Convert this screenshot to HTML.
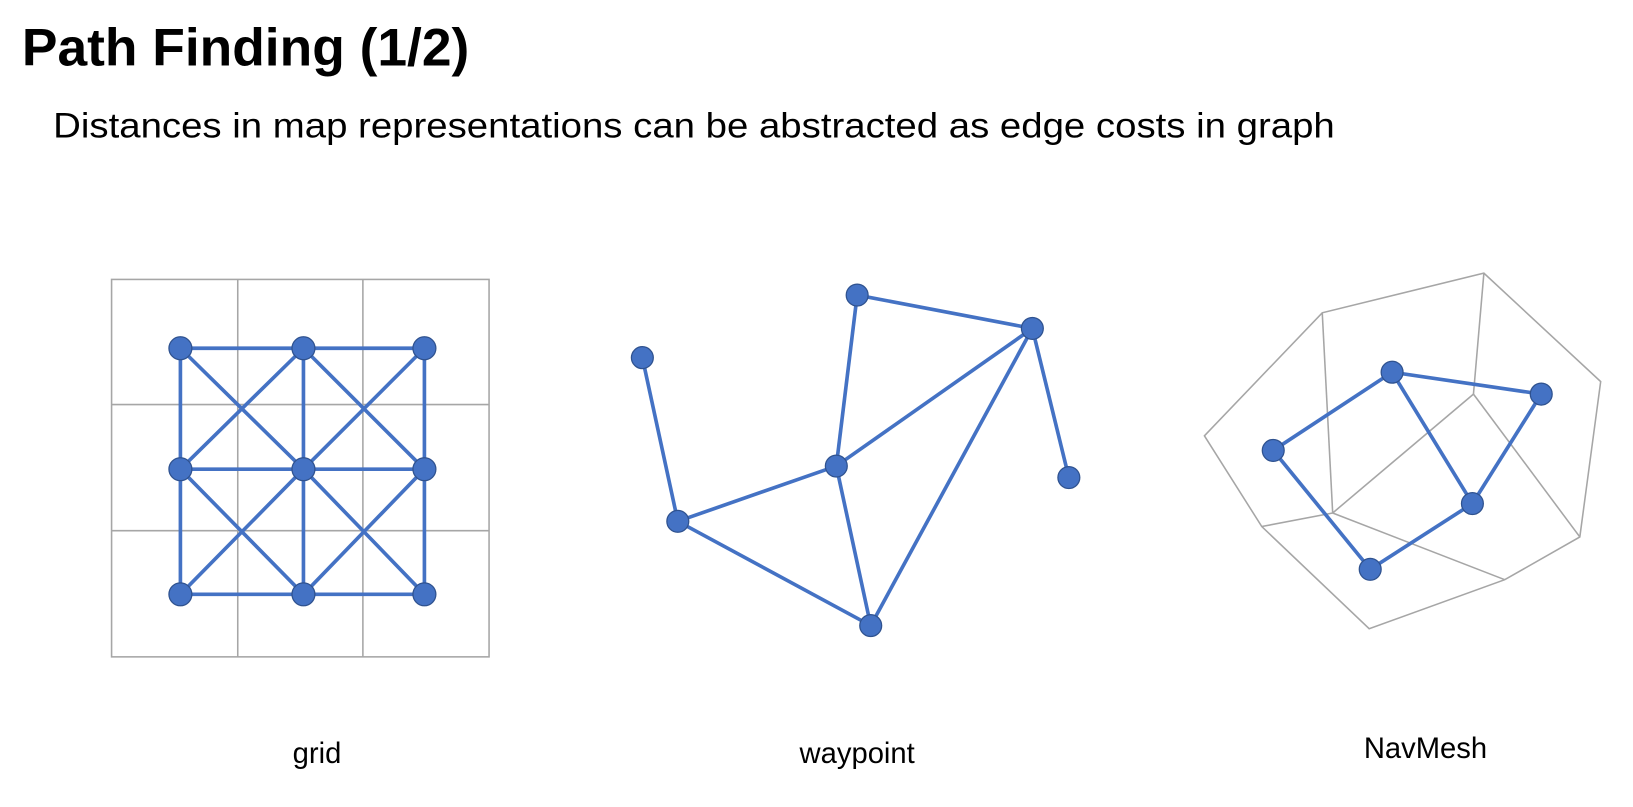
<!DOCTYPE html>
<html><head><meta charset="utf-8"><style>
html,body{margin:0;padding:0;background:#fff;}
svg{display:block;}
text{font-family:"Liberation Sans",Arial,sans-serif;fill:#000;}
</style></head><body>
<svg width="1633" height="807" viewBox="0 0 1566 774" preserveAspectRatio="none" xmlns="http://www.w3.org/2000/svg">
<rect width="1566" height="774" fill="#fff"/>
<text x="21" y="63" font-size="51" font-weight="bold" textLength="429" lengthAdjust="spacingAndGlyphs">Path Finding (1/2)</text>
<text x="51" y="132" font-size="33.5" textLength="1229" lengthAdjust="spacingAndGlyphs">Distances in map representations can be abstracted as edge costs in graph</text>

<!-- grid -->
<g stroke="#a6a6a6" stroke-width="1.5" fill="none">
<rect x="107" y="268" width="362" height="362"/>
<line x1="228" y1="268" x2="228" y2="630"/>
<line x1="348" y1="268" x2="348" y2="630"/>
<line x1="107" y1="388" x2="469" y2="388"/>
<line x1="107" y1="509" x2="469" y2="509"/>
</g>
<g stroke="#4472c4" stroke-width="3.5" fill="none">
<line x1="173" y1="334" x2="407" y2="334"/>
<line x1="173" y1="450" x2="407" y2="450"/>
<line x1="173" y1="570" x2="407" y2="570"/>
<line x1="173" y1="334" x2="173" y2="570"/>
<line x1="291" y1="334" x2="291" y2="570"/>
<line x1="407" y1="334" x2="407" y2="570"/>
<line x1="173" y1="334" x2="291" y2="450"/><line x1="291" y1="334" x2="173" y2="450"/>
<line x1="291" y1="334" x2="407" y2="450"/><line x1="407" y1="334" x2="291" y2="450"/>
<line x1="173" y1="450" x2="291" y2="570"/><line x1="291" y1="450" x2="173" y2="570"/>
<line x1="291" y1="450" x2="407" y2="570"/><line x1="407" y1="450" x2="291" y2="570"/>
</g>
<g fill="#4472c4" stroke="#2f528f" stroke-width="1.2">
<circle cx="173" cy="334" r="11"/><circle cx="291" cy="334" r="11"/><circle cx="407" cy="334" r="11"/>
<circle cx="173" cy="450" r="11"/><circle cx="291" cy="450" r="11"/><circle cx="407" cy="450" r="11"/>
<circle cx="173" cy="570" r="11"/><circle cx="291" cy="570" r="11"/><circle cx="407" cy="570" r="11"/>
</g>

<!-- waypoint -->
<g stroke="#4472c4" stroke-width="3.5" fill="none">
<line x1="616" y1="343" x2="650" y2="500"/>
<line x1="650" y1="500" x2="802" y2="447"/>
<line x1="650" y1="500" x2="835" y2="600"/>
<line x1="802" y1="447" x2="822" y2="283"/>
<line x1="822" y1="283" x2="990" y2="315"/>
<line x1="802" y1="447" x2="990" y2="315"/>
<line x1="802" y1="447" x2="835" y2="600"/>
<line x1="835" y1="600" x2="990" y2="315"/>
<line x1="990" y1="315" x2="1025" y2="458"/>
</g>
<g fill="#4472c4" stroke="#2f528f" stroke-width="1.2">
<circle cx="616" cy="343" r="10.5"/><circle cx="822" cy="283" r="10.5"/><circle cx="990" cy="315" r="10.5"/>
<circle cx="802" cy="447" r="10.5"/><circle cx="650" cy="500" r="10.5"/><circle cx="1025" cy="458" r="10.5"/>
<circle cx="835" cy="600" r="10.5"/>
</g>

<!-- navmesh -->
<g stroke="#a6a6a6" stroke-width="1.5" fill="none">
<polygon points="1155,418 1268,300 1423,262 1535,366 1515,515 1443,556 1313,603 1210,505"/>
<line x1="1268" y1="300" x2="1278" y2="492"/>
<line x1="1423" y1="262" x2="1413" y2="378"/>
<line x1="1413" y1="378" x2="1278" y2="492"/>
<line x1="1413" y1="378" x2="1515" y2="515"/>
<line x1="1278" y1="492" x2="1210" y2="505"/>
<line x1="1278" y1="492" x2="1443" y2="556"/>
</g>
<g stroke="#4472c4" stroke-width="3.5" fill="none">
<line x1="1221" y1="432" x2="1335" y2="357"/>
<line x1="1335" y1="357" x2="1478" y2="378"/>
<line x1="1478" y1="378" x2="1412" y2="483"/>
<line x1="1412" y1="483" x2="1314" y2="546"/>
<line x1="1314" y1="546" x2="1221" y2="432"/>
<line x1="1335" y1="357" x2="1412" y2="483"/>
</g>
<g fill="#4472c4" stroke="#2f528f" stroke-width="1.2">
<circle cx="1221" cy="432" r="10.5"/><circle cx="1335" cy="357" r="10.5"/><circle cx="1478" cy="378" r="10.5"/>
<circle cx="1412" cy="483" r="10.5"/><circle cx="1314" cy="546" r="10.5"/>
</g>

<text x="304" y="732" font-size="28" text-anchor="middle">grid</text>
<text x="822" y="732" font-size="28" text-anchor="middle">waypoint</text>
<text x="1367" y="727" font-size="28" text-anchor="middle">NavMesh</text>
</svg>
</body></html>
